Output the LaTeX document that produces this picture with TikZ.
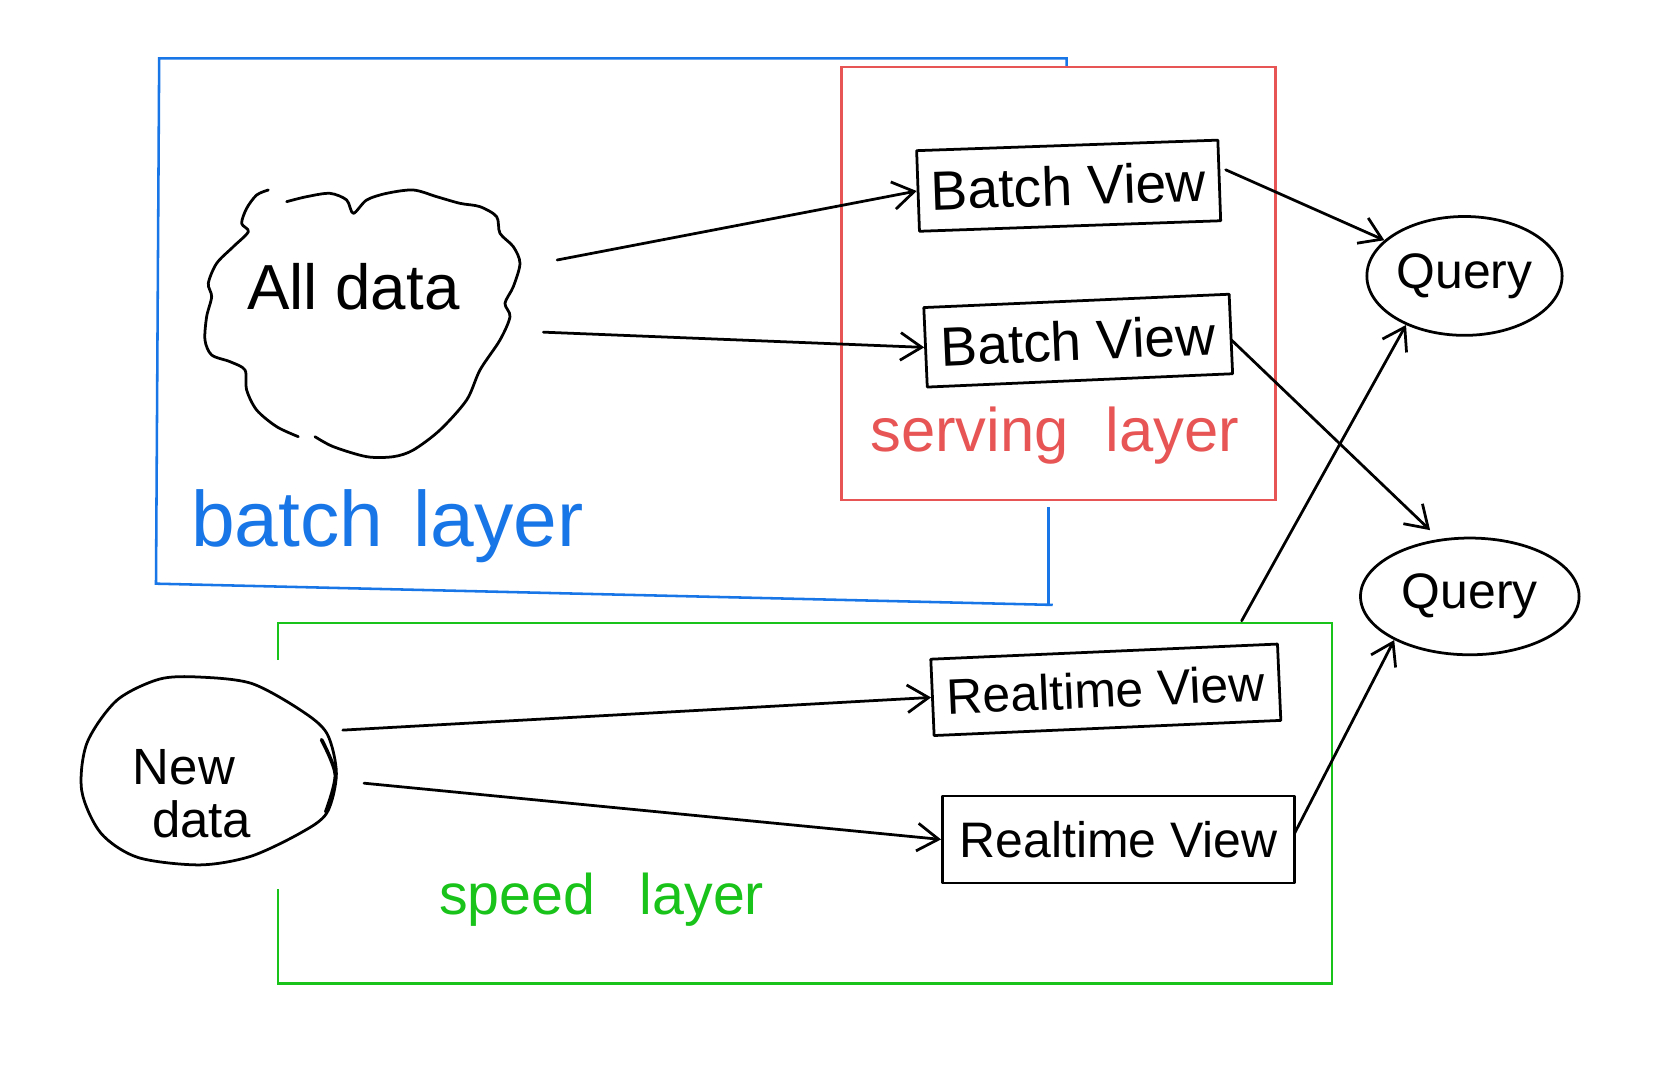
\documentclass[tikz,border=0pt]{standalone}
\usepackage{fontspec}
\setmainfont{Liberation Sans}
\usetikzlibrary{arrows.meta,shapes.geometric}
\definecolor{bl}{RGB}{25,118,230}
\definecolor{rd}{RGB}{232,85,85}
\definecolor{gr}{RGB}{25,195,25}
\begin{document}
\begin{tikzpicture}[x=0.5pt,y=-0.5pt,
  ink/.style={line width=1.3pt, line cap=round, line join=round},
  arr/.style={ink, -{Straight Barb[length=10pt,width=13pt]}},
  frame/.style={line width=1.2pt},
  viewbox/.style={draw, ink, inner sep=0pt, font=\fontsize{26}{30}\selectfont},
  rtview/.style={viewbox, font=\fontsize{23.5}{28}\selectfont},
  query/.style={ellipse, draw, ink, inner sep=0pt, font=\fontsize{23.5}{28}\selectfont},
  ]
\useasboundingbox[fill=white] (0,0) rectangle (1568,1016);

% frames
\draw[bl, frame] (1005,62) -- (1005,55) -- (150,55) -- (147,550) -- (992,570);
\draw[bl, frame] (988,478) -- (988,570);
\draw[rd, frame] (793,63) rectangle (1202,471);
\draw[gr, frame] (262,622) -- (262,587) -- (1255,587) -- (1255,927) -- (262,927) -- (262,838);

% cloud "All data"
\begin{scope}[shift={(169.6,160.2)}, scale=0.3141]
\draw[ink] plot[smooth] coordinates {(405,800) (460,830) (560,860) (640,860) (700,840) (780,780) (860,690) (900,600) (960,510) (990,440) (975,400) (1000,350) (1020,280) (1000,230) (960,190) (950,140) (900,110) (840,100) (770,80) (700,60) (620,70) (560,90) (520,130) (500,90) (450,70) (380,80) (320,95)};
\draw[ink] plot[smooth] coordinates {(265,60) (230,75) (200,115) (185,160) (205,185) (160,230) (110,280) (85,340) (95,380) (80,440) (75,510) (95,555) (150,575) (195,600) (200,660) (230,720) (290,770) (355,800)};
\end{scope}
\node[font=\fontsize{30}{34}\selectfont, anchor=base] (tall) at (333,292) {All data};

% New data
\draw[ink] plot[smooth cycle] coordinates {(188,638) (237,644) (283,669) (308,691) (317,729) (308,766) (283,785) (236,807) (188,815) (130,808) (95,785) (77,745) (82,700) (110,660) (150,640)};
\draw[ink, line width=1.7pt] plot[smooth] coordinates {(303,697) (316,730) (307,765)};
\node[align=left, font=\fontsize{24}{25}\selectfont] (tnew) at (181,748) {New\\\hspace{9pt}data};

% layer labels
\node[text=bl, font=\fontsize{37}{40}\selectfont, anchor=base] (tbatch) at (365,515) {batch\ \hspace{4pt}layer};
\node[text=rd, font=\fontsize{29}{32}\selectfont, anchor=base] (tserve) at (994,425) {serving\ \hspace{9.5pt}layer};
\node[text=gr, font=\fontsize{27}{32}\selectfont, anchor=base] (tspeed) at (567,862) {speed\ \hspace{13.5pt}layer};

% views
\node[viewbox, minimum width=142pt, minimum height=38pt, rotate=2] (bv1) at (1007,175) {Batch View};
\node[viewbox, minimum width=144pt, minimum height=37.5pt, rotate=2.5] (bv2) at (1016,321) {Batch View};
\node[rtview, minimum width=163.5pt, minimum height=36pt, rotate=2.5] (rv1) at (1042,650) {Realtime View};
\node[rtview, minimum width=166pt, minimum height=41pt] (rv2) at (1054,791) {Realtime View};

% queries
\node[query, minimum width=92pt, minimum height=56pt] (q1) at (1380,260) {Query};
\node[query, minimum width=103pt, minimum height=55pt] (q2) at (1385,562) {Query};

% connector start points
\coordinate (s1) at (525,245);
\coordinate (s2) at (512,313);
\coordinate (s3) at (1155,160);
\coordinate (s4) at (1160,320);
\coordinate (s5) at (1170,585);
\coordinate (s6) at (323,688);
\coordinate (s7) at (343,738);
\coordinate (s8) at (1220,785);

\draw[arr] (s1) -- (bv1.west);
\draw[arr] (s2) -- (bv2.west);
\draw[arr] (s3) -- (q1.156);
\draw[arr, shorten >=6pt] (s4) -- (q2.118);
\draw[arr] (s5) -- (q1.220);
\draw[arr] (s6) -- (rv1.west);
\draw[arr] (s7) -- (rv2.west);
\draw[arr] (s8) -- (q2.210);
\end{tikzpicture}
\end{document}
